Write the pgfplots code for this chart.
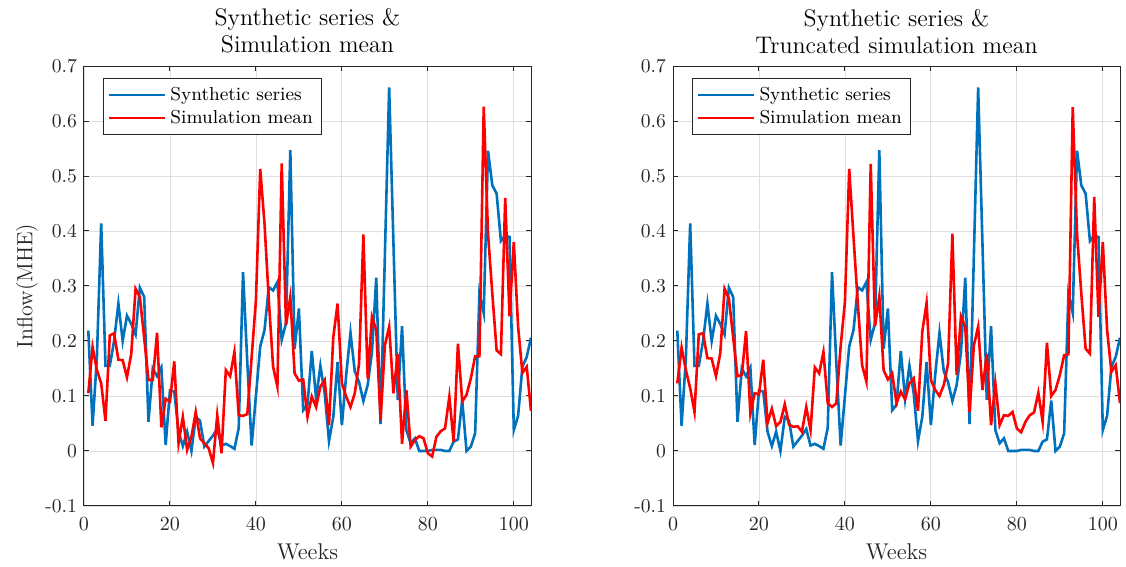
\documentclass[border=0pt]{standalone}
\usepackage{pgfplots}
\usepackage{pgfplotstable}
\pgfplotsset{compat=1.18}
\definecolor{mblue}{RGB}{0,114,189}
\definecolor{mred}{RGB}{255,0,0}
\definecolor{maxis}{RGB}{38,38,38}
\definecolor{mgrid}{RGB}{222,222,222}

\pgfplotstableread{
w syn sim trunc
1 0.219 0.105 0.123
2 0.046 0.189 0.188
3 0.170 0.147 0.147
4 0.414 0.123 0.114
5 0.155 0.055 0.071
6 0.155 0.210 0.212
7 0.200 0.214 0.214
8 0.268 0.166 0.169
9 0.200 0.165 0.168
10 0.246 0.134 0.136
11 0.231 0.177 0.178
12 0.212 0.295 0.295
13 0.297 0.280 0.277
14 0.280 0.206 0.207
15 0.053 0.129 0.136
16 0.150 0.129 0.138
17 0.136 0.215 0.218
18 0.152 0.043 0.068
19 0.011 0.095 0.105
20 0.110 0.090 0.103
21 0.108 0.163 0.166
22 0.035 0.014 0.051
23 0.009 0.062 0.077
24 0.035 0.002 0.045
25 0.000 0.026 0.053
26 0.062 0.071 0.085
27 0.055 0.023 0.048
28 0.008 0.014 0.044
29 0.018 0.005 0.045
30 0.028 -0.022 0.035
31 0.040 0.065 0.080
32 0.010 -0.004 0.038
33 0.013 0.147 0.152
34 0.009 0.136 0.141
35 0.004 0.180 0.180
36 0.042 0.065 0.087
37 0.325 0.064 0.080
38 0.160 0.067 0.087
39 0.010 0.170 0.190
40 0.100 0.274 0.271
41 0.190 0.513 0.513
42 0.220 0.413 0.389
43 0.298 0.274 0.268
44 0.292 0.153 0.156
45 0.307 0.117 0.126
46 0.202 0.523 0.522
47 0.232 0.229 0.227
48 0.547 0.280 0.281
49 0.186 0.141 0.147
50 0.259 0.128 0.130
51 0.074 0.130 0.141
52 0.084 0.062 0.087
53 0.182 0.099 0.108
54 0.095 0.080 0.094
55 0.155 0.117 0.123
56 0.105 0.129 0.132
57 0.018 0.047 0.073
58 0.062 0.207 0.217
59 0.162 0.268 0.269
60 0.047 0.123 0.129
61 0.138 0.099 0.111
62 0.215 0.080 0.100
63 0.145 0.105 0.120
64 0.125 0.159 0.159
65 0.091 0.394 0.395
66 0.120 0.132 0.138
67 0.180 0.244 0.245
68 0.315 0.220 0.226
69 0.049 0.056 0.071
70 0.355 0.192 0.192
71 0.661 0.226 0.226
72 0.377 0.105 0.111
73 0.093 0.176 0.177
74 0.227 0.013 0.047
75 0.038 0.111 0.123
76 0.014 0.008 0.047
77 0.023 0.020 0.065
78 0.000 0.027 0.064
79 0.000 0.023 0.071
80 0.000 -0.004 0.041
81 0.002 -0.010 0.034
82 0.002 0.026 0.053
83 0.002 0.036 0.065
84 0.000 0.041 0.070
85 0.000 0.099 0.106
86 0.017 0.017 0.053
87 0.021 0.195 0.197
88 0.092 0.090 0.100
89 0.000 0.102 0.111
90 0.008 0.132 0.138
91 0.032 0.172 0.174
92 0.287 0.172 0.176
93 0.251 0.626 0.625
94 0.546 0.395 0.395
95 0.483 0.286 0.286
96 0.468 0.183 0.186
97 0.382 0.176 0.177
98 0.392 0.460 0.462
99 0.389 0.245 0.244
100 0.038 0.380 0.380
101 0.064 0.226 0.220
102 0.153 0.142 0.144
103 0.171 0.153 0.156
104 0.206 0.073 0.087
}\datatable

\pgfplotsset{
  mstyle/.style={
    scale only axis,
    width=223.5pt, height=220pt,
    xmin=0, xmax=104, ymin=-0.1, ymax=0.7,
    xtick={0,20,40,60,80,100},
    ytick={-0.1,0,0.1,0.2,0.3,0.4,0.5,0.6,0.7},
    yticklabels={-0.1,0,0.1,0.2,0.3,0.4,0.5,0.6,0.7},
    grid=major,
    major grid style={mgrid, line width=0.4pt},
    axis line style={maxis, line width=0.5pt},
    tick style={maxis, line width=0.5pt},
    major tick length=2.5pt,
    tick align=inside,
    tick pos=both,
    ticklabel style={font=\fontsize{9.8}{11}\selectfont, text=maxis},
    xticklabel style={yshift=-2.5pt},
    title style={at={(axis description cs:0.5,1)}, anchor=south, yshift=-3.2pt,
      align=center, font=\fontsize{12}{13.5}\selectfont},
    xlabel={Weeks},
    xlabel style={at={(axis description cs:0.5,0)}, anchor=north, yshift=-15.5pt,
      font=\fontsize{11.4}{12}\selectfont, text=maxis},
    legend cell align=left,
    legend image code/.code={\draw[#1] (1pt,0pt) -- (29pt,0pt);},
    legend style={at={(axis description cs:0,1)}, anchor=north west,
      xshift=9.5pt, yshift=-6pt, draw=maxis, line width=0.5pt,
      font=\fontsize{9.4}{11}\selectfont, inner sep=2.2pt,
      row sep=-0.6pt},
  }
}

\begin{document}
\begin{tikzpicture}
\path[use as bounding box] (-42pt,-30.5pt) rectangle (521pt,253pt);
\begin{axis}[mstyle, at={(0pt,0pt)}, anchor=south west,
  title={Synthetic series \&\\Simulation mean},
  ylabel={Inflow(MHE)},
  ylabel style={at={(axis description cs:-0.128,0.5)}, anchor=center,
    font=\fontsize{11}{12}\selectfont, text=maxis}]
\addplot[mblue, line width=1.3pt] table[x=w, y=syn] {\datatable};
\addplot[mred, line width=1.3pt] table[x=w, y=sim] {\datatable};
\legend{Synthetic series, Simulation mean}
\end{axis}
\begin{axis}[mstyle, at={(294.5pt,0pt)}, anchor=south west,
  title={Synthetic series \&\\Truncated simulation mean}]
\addplot[mblue, line width=1.3pt] table[x=w, y=syn] {\datatable};
\addplot[mred, line width=1.3pt] table[x=w, y=trunc] {\datatable};
\legend{Synthetic series, Simulation mean}
\end{axis}
\end{tikzpicture}
\end{document}
